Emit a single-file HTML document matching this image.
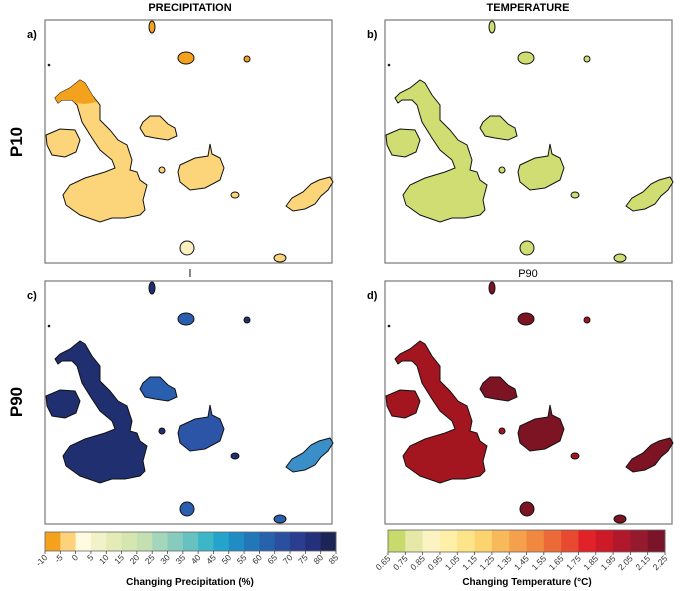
<!DOCTYPE html>
<html><head><meta charset="utf-8"><style>
body{margin:0;background:#fff;width:685px;height:591px;overflow:hidden}
svg{display:block;font-family:"Liberation Sans",sans-serif}
</style></head><body>
<svg id="fig" width="685" height="591" viewBox="0 0 685 591" xmlns="http://www.w3.org/2000/svg">
<text x="190" y="11" font-size="11" font-weight="bold" text-anchor="middle">PRECIPITATION</text>
<text x="528" y="11" font-size="11" font-weight="bold" text-anchor="middle">TEMPERATURE</text>
<text transform="translate(22,142) rotate(-90)" font-size="17" font-weight="bold" text-anchor="middle">P10</text>
<text transform="translate(22,402) rotate(-90)" font-size="17" font-weight="bold" text-anchor="middle">P90</text>
<text x="190" y="277" font-size="11" text-anchor="middle">l</text>
<text x="528" y="277" font-size="11" text-anchor="middle">P90</text>
<text x="27" y="38" font-size="11" font-weight="bold">a)</text>
<text x="367" y="38" font-size="11" font-weight="bold">b)</text>
<text x="27" y="299" font-size="11" font-weight="bold">c)</text>
<text x="367" y="299" font-size="11" font-weight="bold">d)</text>
<g id="panels"></g>
<g id="bars"></g>
<text x="190" y="585" font-size="10" font-weight="bold" text-anchor="middle">Changing Precipitation (%)</text>
<text x="527" y="585" font-size="10" font-weight="bold" text-anchor="middle">Changing Temperature (°C)</text>
</svg>
<script>
const precipTicks=[-10,-5,0,5,10,15,20,25,30,35,40,45,50,55,60,65,70,75,80,85];
const precipColors=["#f4a11d","#fdd27a","#fffbe0","#f2f2c8","#e4ebb4","#d6e6b0","#c4e0b3","#a3d6bb","#86cbbe","#66c2c0","#3db7c8","#24a3cc","#1f8cc3","#2277b8","#2762ac","#2a4f9c","#2b3d8e","#243079","#1c2555"];
const tempTicks=["0.65","0.75","0.85","0.95","1.05","1.15","1.25","1.35","1.45","1.55","1.65","1.75","1.85","1.95","2.05","2.15","2.25"];
const tempColors=["#c8da6c","#e6e8a8","#fbf3c4","#fff0a8","#fde389","#fbd470","#f8b95a","#f5a04c","#f08840","#ec6a38","#e74a30","#e12228","#cc1a28","#b2182b","#951a2e","#7a1428"];
const NS="http://www.w3.org/2000/svg";
function mk(t,a,p){const e=document.createElementNS(NS,t);for(const k in a)e.setAttribute(k,a[k]);p.appendChild(e);return e;}
const islands={
isabela:"M10,78 L15,73 L25,68 L35,60 L40,63 L47,75 L55,85 L55,100 L65,110 L73,120 L82,125 L87,140 L85,150 L92,152 L95,160 L102,165 L98,180 L100,190 L95,195 L80,198 L67,198 L55,202 L35,195 L21,185 L18,175 L25,165 L40,158 L60,152 L70,148 L67,140 L55,130 L47,118 L37,102 L32,85 L27,80 L17,80 L13,83 Z",
fernandina:"M1,115 L15,109 L30,110 L35,120 L31,132 L20,137 L7,135 L2,125 Z",
santiago:"M98,102 L105,96 L115,96 L123,104 L130,108 L132,116 L123,120 L110,118 L100,116 L95,108 Z",
santacruz:"M135,145 L150,138 L163,136 L165,124 L167,134 L175,138 L179,148 L175,160 L160,168 L145,170 L135,162 L133,152 Z",
sancristobal:"M241,186 L247,178 L258,172 L266,164 L274,160 L285,157 L288,162 L283,170 L276,176 L270,184 L260,189 L248,191 Z"};
const smalls=[["pinta",107,7,3,6],["marchena",141,38,8,6],["genovesa",202,39,3,3],["espanola",142,228,7,7],["floreana",235,238,6,4],["rabida",117,150,3,3],["santafe",190,175,4,3],["pinzon",4,45,0.8,0.8]];
const panels=[
 {id:"a",x:45,y:20,fill:"#fcd57a",alt:{marchena:"#f4a11d",pinta:"#f4a11d",genovesa:"#f4a11d",espanola:"#fdefc0"}},
 {id:"b",x:385,y:20,fill:"#cfdd73",alt:{}},
 {id:"c",x:45,y:281,fill:"#1f2f70",alt:{santacruz:"#2c55a8",sancristobal:"#3a8fc8",santiago:"#2a5fb0",marchena:"#2a5fb0",espanola:"#2a5fb0",floreana:"#2a5fb0"}},
 {id:"d",x:385,y:281,fill:"#a3161f",alt:{santacruz:"#7d1424",sancristobal:"#7d1424",santiago:"#7d1424",marchena:"#7d1424",espanola:"#7d1424",floreana:"#7d1424",pinta:"#7d1424"}}];
const pg=document.getElementById('panels');
panels.forEach(p=>{
 const g=mk('g',{transform:`translate(${p.x},${p.y})`},pg);
 
 
 const fr=mk('rect',{x:0,y:0,width:287,height:243,fill:'#fff',stroke:'#777','stroke-width':1.2},g);
 
 
 const cl=mk('g',{},g);
 for(const k in islands){
  const e=mk('path',{d:islands[k],fill:p.alt[k]||p.fill,stroke:'#111','stroke-width':1},cl);
  
  
 }
 if(p.id==='a'){mk('path',{d:"M10,78 L15,73 L25,68 L35,60 L40,63 L47,75 L52,82 L40,84 L30,83 L27,80 L17,80 L13,83 Z",fill:'#f4a11d',stroke:'none'},cl);}
 smalls.forEach(s=>{
  const e=mk('ellipse',{cx:s[1],cy:s[2],rx:s[3],ry:s[4],fill:p.alt[s[0]]||p.fill,stroke:'#111','stroke-width':1},cl);
  
  
 });
});
const bg=document.getElementById('bars');
function colorbar(x0,x1,y0,h,cols,ticks,name){
 const w=(x1-x0)/cols.length;
 cols.forEach((c,i)=>{
  const r=mk('rect',{x:x0+i*w,y:y0,width:w+0.4,height:h,fill:c},bg);
  
  
 });
 mk('rect',{x:x0,y:y0,width:x1-x0,height:h,fill:'none',stroke:'#666','stroke-width':0.8},bg);
 ticks.forEach((t,i)=>{
  const tx=x0+i*w;
  mk('line',{x1:tx,x2:tx,y1:y0+h,y2:y0+h+3,stroke:'#444','stroke-width':0.8},bg);
  const l=mk('text',{transform:`translate(${tx+3},${y0+h+7}) rotate(-45)`,'font-size':8.5,'text-anchor':'end',fill:'#333'},bg);
  l.textContent=t;
  
  
 });
}
colorbar(45,336,532,19,precipColors,precipTicks,'precip-colorbar');
colorbar(388,665,530,22,tempColors,tempTicks,'temp-colorbar');
</script>
</body></html>
